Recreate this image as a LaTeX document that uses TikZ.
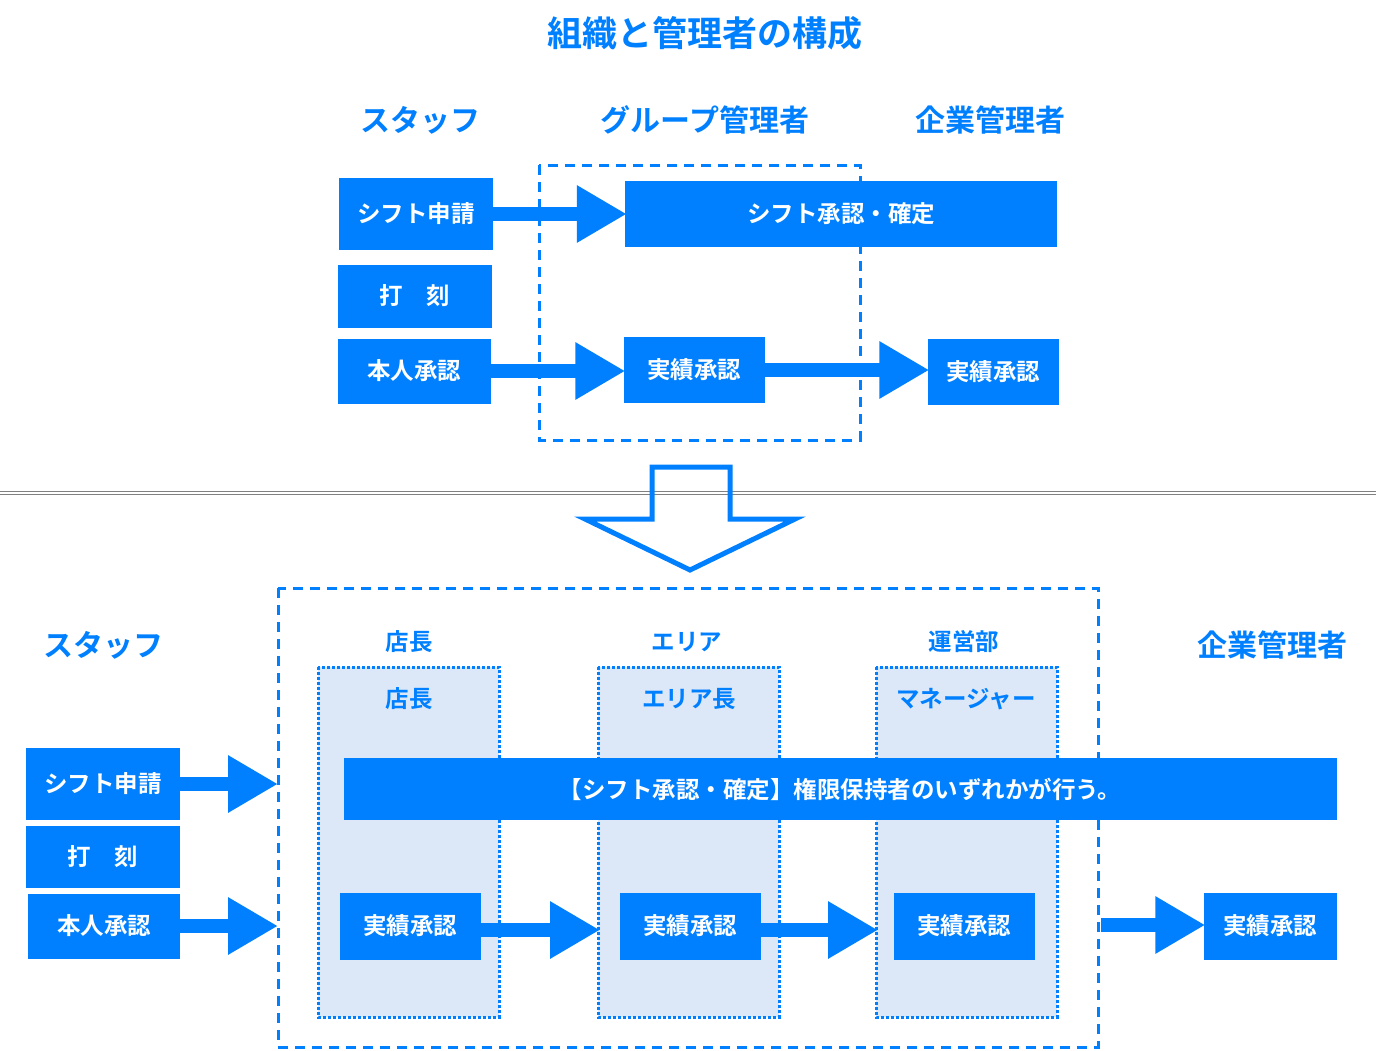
\documentclass[tikz,border=0pt]{standalone}
\usepackage{fontspec}
\newfontfamily\jpfont{Noto Sans CJK JP}[BoldFont={Noto Sans CJK JP Bold}]
\usetikzlibrary{arrows.meta, positioning}
\definecolor{mainblue}{RGB}{0, 128, 255}
\definecolor{paleblue}{RGB}{220, 232, 248}
\tikzset{
  box/.style = {rectangle, fill=mainblue, text=white, inner sep=0pt,
                font=\jpfont\bfseries\fontsize{23.5}{27}\selectfont},
  head/.style = {text=mainblue, font=\jpfont\bfseries\fontsize{30}{35}\selectfont},
  subhead/.style = {text=mainblue, font=\jpfont\bfseries\fontsize{23.5}{27}\selectfont},
  group/.style = {draw=mainblue, line width=3pt, dash pattern=on 10pt off 7pt},
  role/.style = {draw=mainblue, fill=paleblue, line width=3pt, dotted},
  arrow/.style = {draw=mainblue, line width=14pt,
                  -{Triangle[length=50pt,width=54pt]}, shorten >=-2pt}
}
\begin{document}
\begin{tikzpicture}[x=1pt,y=-1pt]
  \useasboundingbox (0,0) rectangle (1376,1050);

  % title and headers
  \node (title) [head, font=\jpfont\bfseries\fontsize{35}{40}\selectfont] at (705,33) {組織と管理者の構成};
  \node (hStaff) [head] at (420,120) {スタッフ};
  \node (hGroup) [head] at (705,120) {グループ管理者};
  \node (hCorp) [head] at (990,120) {企業管理者};

  % before
  \draw [group] (539,165) rectangle (860,440);
  \node (shiftReq) [box, minimum width=154pt, minimum height=72pt] at (416,214) {シフト申請};
  \node (clock) [box, minimum width=154pt, minimum height=63pt] at (415,296) {打\hspace{1em}刻};
  \node (selfOk) [box, minimum width=153pt, minimum height=65pt] at (414,371) {本人承認};
  \node (shiftOk) [box, minimum width=432pt, minimum height=66pt] at (841,214) {シフト承認・確定};
  \node (grpOk) [box, minimum width=141pt, minimum height=66pt] at (694,370) {実績承認};
  \node (corpOk) [box, minimum width=131pt, minimum height=66pt] at (993,372) {実績承認};
  \draw [arrow] (shiftReq.east) -- (shiftOk.west);
  \draw [arrow] (selfOk.east) -- (selfOk.east -| grpOk.west);
  \draw [arrow] (grpOk.east) -- (grpOk.east -| corpOk.west);

  % separator
  \draw [gray, line width=0.8pt] (0,491.5) -- (1376,491.5);
  \draw [gray, line width=0.8pt] (0,494.5) -- (1376,494.5);

  % change arrow
  \draw [mainblue, line width=5pt, line join=miter]
    (652,467) -- (730,467) -- (730,519) -- (795,519) -- (690,570)
    -- (585,519) -- (652,519) -- cycle;

  % after
  \draw [group] (278,588) rectangle (1098,1047);
  \node (hStaff2) [head] at (103,645) {スタッフ};
  \node (hCorp2) [head] at (1272,645) {企業管理者};
  \node (hStore) [subhead] at (409,642) {店長};
  \node (hArea) [subhead] at (687,642) {エリア};
  \node (hOps) [subhead] at (964,642) {運営部};

  \draw [role] (318,667) rectangle (499,1017);
  \draw [role] (598,667) rectangle (779,1017);
  \draw [role] (876,667) rectangle (1057,1017);
  \node (rStore) [subhead] at (409,699) {店長};
  \node (rArea) [subhead] at (689,699) {エリア長};
  \node (rMgr) [subhead] at (966,699) {マネージャー};

  \node (anyOk) [box, minimum width=993pt, minimum height=62pt] at (840,789) {【シフト承認・確定】権限保持者のいずれかが行う。};

  \node (shiftReq2) [box, minimum width=154pt, minimum height=72pt] at (103,784) {シフト申請};
  \node (clock2) [box, minimum width=154pt, minimum height=62pt] at (103,857) {打\hspace{1em}刻};
  \node (selfOk2) [box, minimum width=152pt, minimum height=65pt] at (104,926) {本人承認};
  \coordinate (inTop) at (276,784);
  \coordinate (inBot) at (276,926);
  \draw [arrow] (shiftReq2.east) -- (inTop);
  \draw [arrow] (selfOk2.east) -- (inBot);

  \node (storeOk) [box, minimum width=141pt, minimum height=67pt] at (410,926) {実績承認};
  \node (areaOk) [box, minimum width=141pt, minimum height=67pt] at (690,926) {実績承認};
  \node (mgrOk) [box, minimum width=141pt, minimum height=67pt] at (964,926) {実績承認};
  \node (corpOk2) [box, minimum width=133pt, minimum height=67pt] at (1270,926) {実績承認};
  \coordinate (toArea) at (598,930);
  \coordinate (toMgr) at (876,930);
  \coordinate (fromBox) at (1101,925);
  \draw [arrow] (storeOk.east |- toArea) -- (toArea);
  \draw [arrow] (areaOk.east |- toMgr) -- (toMgr);
  \draw [arrow] (fromBox) -- (fromBox -| corpOk2.west);
\end{tikzpicture}
\end{document}
